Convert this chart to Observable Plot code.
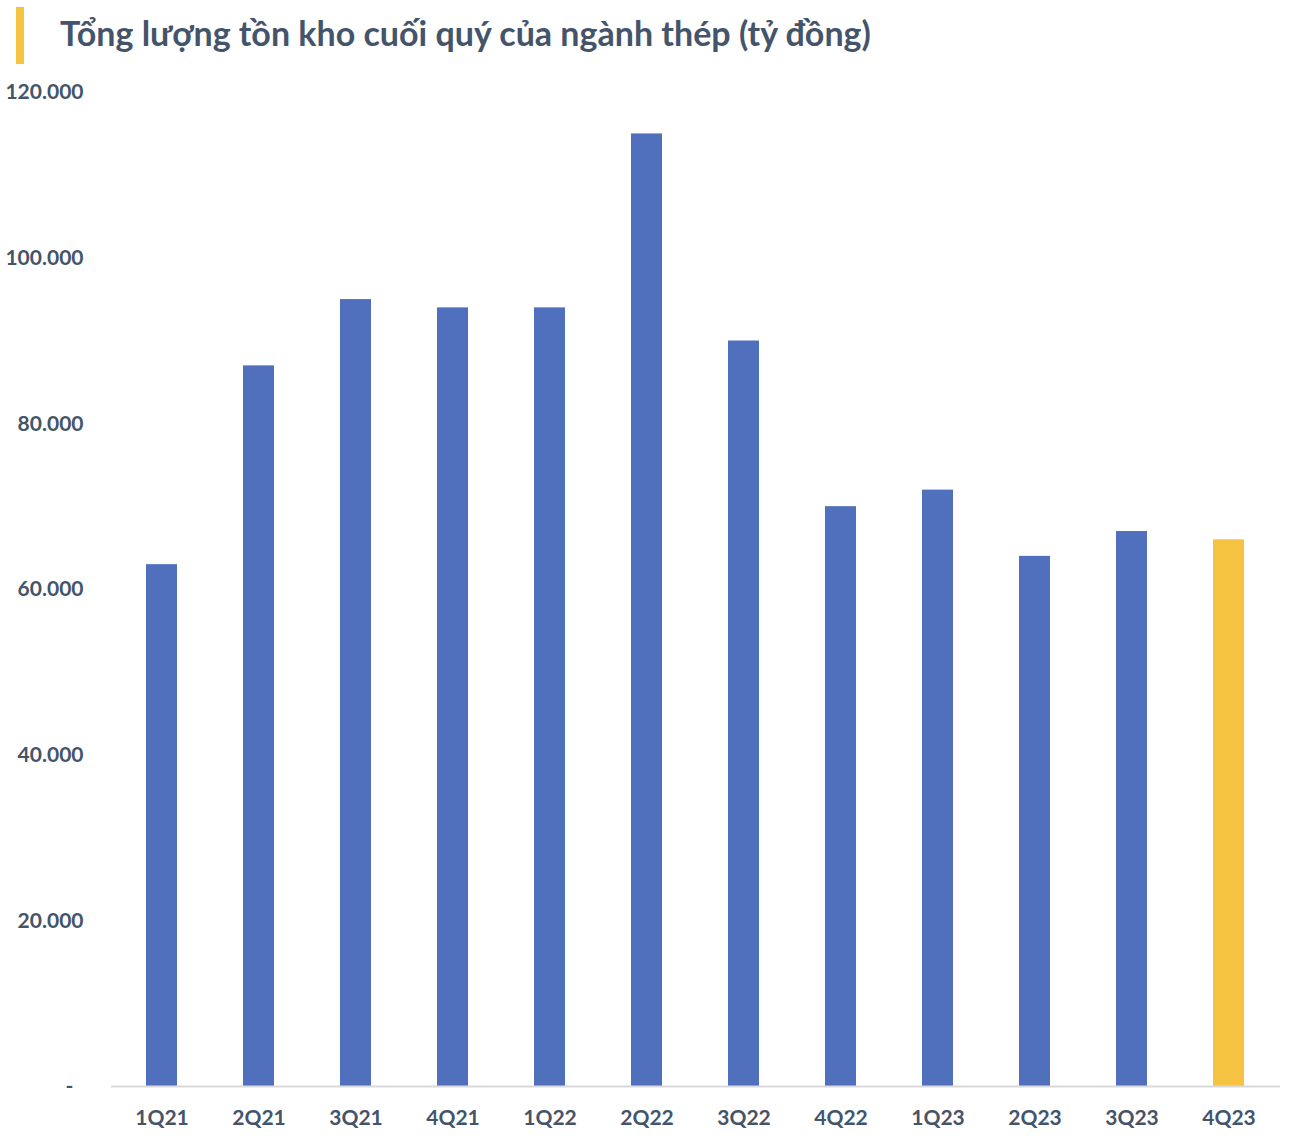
<!DOCTYPE html>
<html>
<head>
<meta charset="utf-8">
<script src="https://cdn.jsdelivr.net/npm/d3@7"></script>
<script src="https://cdn.jsdelivr.net/npm/@observablehq/plot@0.6"></script>
<style>
  body { margin: 0; background: #fff; font-family: Lato, "Open Sans", sans-serif; }
  #wrap { width: 1290px; }
  #title { position: relative; height: 68px; }
  #title .bar { position: absolute; left: 16px; top: 7px; width: 8px; height: 57px; background: #F5C242; }
  #title .txt { position: absolute; left: 60px; top: 12px; font-size: 34px; font-weight: 700; color: #44546A; white-space: nowrap; }
  svg { display: block; }
</style>
</head>
<body>
<div id="wrap">
  <div id="title"><div class="bar"></div><div class="txt">Tổng lượng tồn kho cuối quý của ngành thép (tỷ đồng)</div></div>
  <div id="chart"></div>
</div>
<script>
const quarters = ["1Q21","2Q21","3Q21","4Q21","1Q22","2Q22","3Q22","4Q22","1Q23","2Q23","3Q23","4Q23"];
const inventory = [63000, 87000, 95000, 94000, 94000, 115000, 90000, 70000, 72000, 64000, 67000, 66000];
const highlight = ["4Q23"];
const yTicks = [0, 20000, 40000, 60000, 80000, 100000, 120000];

const data = quarters.map((q, i) => ({q, v: inventory[i], hl: highlight.includes(q)}));
const fmt = d => d === 0 ? "-\u00a0\u00a0" : d3.format(",")(d).replace(/,/g, ".");

const chart = Plot.plot({
  width: 1290,
  height: 1078,
  marginTop: 24,
  marginBottom: 60,
  marginLeft: 111,
  marginRight: 10,
  style: {fontFamily: "Lato, 'Open Sans', sans-serif", fontSize: "21px", fontWeight: 700, color: "#44546A"},
  x: {domain: quarters, paddingInner: 0.68, paddingOuter: 0.34, label: null},
  y: {domain: [0, 120000], label: null},
  marks: [
    Plot.barY(data, {x: "q", y: "v", fill: d => d.hl ? "#F5C242" : "#5070BE"}),
    Plot.ruleY([0], {stroke: "#D9D9D9", strokeWidth: 2}),
    Plot.axisY({ticks: yTicks, tickSize: 0, tickPadding: 28, tickFormat: fmt, label: null, fill: "#44546A"}),
    Plot.axisX({tickSize: 0, tickPadding: 24, label: null, fill: "#44546A"})
  ]
});
document.getElementById("chart").appendChild(chart);
</script>
</body>
</html>
